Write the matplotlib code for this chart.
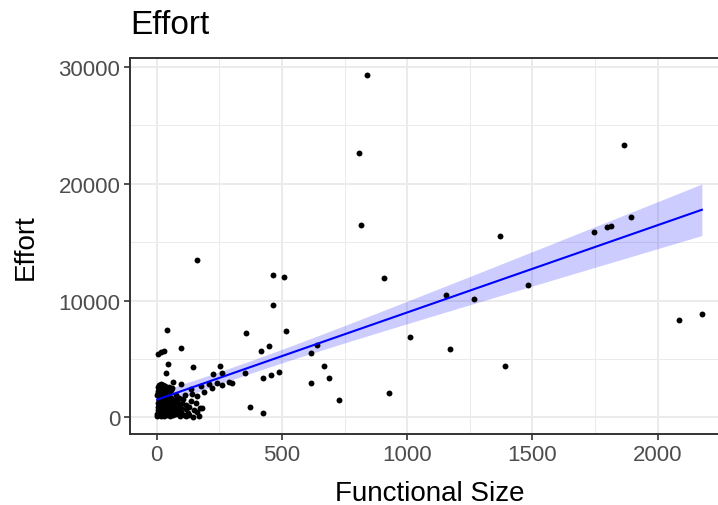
import numpy as np
import matplotlib
matplotlib.use("Agg")
import matplotlib.pyplot as plt

plt.rcParams['font.family'] = ['Liberation Sans', 'DejaVu Sans']

# Scattered points (Functional Size, Effort)
outer_x = [841, 808, 817, 1866, 1370, 1748, 1797, 1814, 1893, 1483, 1267, 1155, 1170, 1390,
           2087, 2177, 466, 510, 908, 466, 516, 1012, 415, 447, 615, 640, 668, 426, 455, 488,
           615, 687, 727, 928, 373, 426, 355, 162, 40, 98, 19, 29, 7, 45, 146, 36, 252, 262,
           224, 65, 98, 353]
outer_y = [29270, 22650, 16480, 23310, 15540, 15830, 16260, 16400, 17110, 11310, 10140, 10510,
           5880, 4400, 8350, 8810, 12220, 12050, 11960, 9610, 7360, 6880, 5690, 6110, 5540, 6170,
           4410, 3410, 3610, 3900, 2980, 3410, 1510, 2130, 910, 370, 7190, 13500, 7470, 5940,
           5600, 5690, 5400, 4600, 4350, 3780, 4400, 3840, 3690, 3000, 2840, 3800]

cluster_x = [2, 3, 5, 4, 6, 8, 3, 5, 7, 10, 12, 9, 14, 11, 15, 13, 16, 18, 20, 22, 19, 24, 21,
             25, 23, 28, 30, 32, 29, 35, 33, 36, 40, 42, 45, 41, 47, 44, 50, 52, 55, 58, 54, 60,
             57, 65, 68, 70, 66, 72, 75, 78, 82, 85, 80, 88, 92, 95, 98, 102, 105, 110, 115, 118,
             112, 125, 130, 135, 140, 136, 150, 155, 160, 176, 190, 209, 220, 242, 260, 289, 302,
             116, 162, 169, 182, 172, 130, 145,
             4, 9, 13, 17, 22, 27, 31, 37, 43, 49, 56, 62, 8, 18, 26, 34, 48]
cluster_y = [100, 300, 600, 900, 1200, 1500, 1900, 2300, 2600, 200, 500, 800, 1100, 1400, 1700,
             2000, 2400, 150, 400, 700, 1000, 1300, 1600, 1900, 2200, 100, 350, 650, 950, 1250,
             1550, 1850, 250, 550, 850, 1150, 1450, 1750, 2050, 150, 450, 750, 1050, 1350, 1650,
             200, 500, 900, 1200, 1500, 1900, 300, 650, 1000, 1300, 1700, 150, 500, 850, 1200,
             1600, 250, 700, 1100, 1900, 400, 900, 1400, 2000, 2420, 600, 1200, 1800, 2700, 2200,
             2840, 2500, 2980, 2800, 3040, 2980, 150, 430, 150, 850, 770, 200, 50,
             2100, 2500, 2200, 2700, 2400, 2600, 2300, 2500, 2200, 2450, 2350, 2550, 2800, 2900,
             2750, 2650, 2600]

x = np.array(outer_x + cluster_x, dtype=float)
y = np.array(outer_y + cluster_y, dtype=float)

# linear fit with 95% confidence band (like geom_smooth(method="lm"))
n = len(x)
b1, b0 = np.polyfit(x, y, 1)
resid = y - (b0 + b1 * x)
s = np.sqrt(np.sum(resid ** 2) / (n - 2))
xbar = x.mean()
sxx = np.sum((x - xbar) ** 2)
xs = np.linspace(x.min(), x.max(), 200)
ys = b0 + b1 * xs
se = s * np.sqrt(1.0 / n + (xs - xbar) ** 2 / sxx)
tq = 1.98

W, H = 718, 506
fig = plt.figure(figsize=(W / 100, H / 100), dpi=100)

xr = x.max() - x.min()
yr = y.max() - y.min()
xlim = (x.min() - 0.05 * xr, x.max() + 0.05 * xr)
ylim = (y.min() - 0.05 * yr, y.max() + 0.05 * yr)

left_px, top_px, bottom_px = 130, 59, 435
px_per_unit = 0.2504
width_px = (xlim[1] - xlim[0]) * px_per_unit
ax = fig.add_axes([left_px / W, (H - bottom_px) / H, width_px / W, (bottom_px - top_px) / H])
ax.set_xlim(*xlim)
ax.set_ylim(*ylim)

ax.set_xticks([0, 500, 1000, 1500, 2000])
ax.set_yticks([0, 10000, 20000, 30000])
ax.set_xticks([250, 750, 1250, 1750, 2250], minor=True)
ax.set_yticks([5000, 15000, 25000], minor=True)
ax.grid(True, which='major', color='#EBEBEB', lw=1.4, zorder=0)
ax.grid(True, which='minor', color='#EBEBEB', lw=0.7, zorder=0)
ax.set_axisbelow(True)

ax.fill_between(xs, ys - tq * se, ys + tq * se, color='#0000FF', alpha=0.2, lw=0, zorder=2)
ax.scatter(x, y, s=18, color='black', lw=0, zorder=3)
ax.plot(xs, ys, color='#0000FF', lw=1.5, zorder=4)

for sp in ax.spines.values():
    sp.set_color('#333333')
    sp.set_linewidth(1.4)

ax.tick_params(which='major', length=4, width=1.2, color='#333333', labelcolor='#4D4D4D',
               labelsize=16, pad=3)
ax.tick_params(which='minor', length=0)

ax.set_xlabel('Functional Size', fontsize=20, color='black', labelpad=11)
ax.set_ylabel('Effort', fontsize=20, color='black', labelpad=14)
fig.text(left_px / W, 1 - 26 / H, 'Effort', fontsize=24, ha='left', va='center')

fig.savefig('out.png', dpi=100)
